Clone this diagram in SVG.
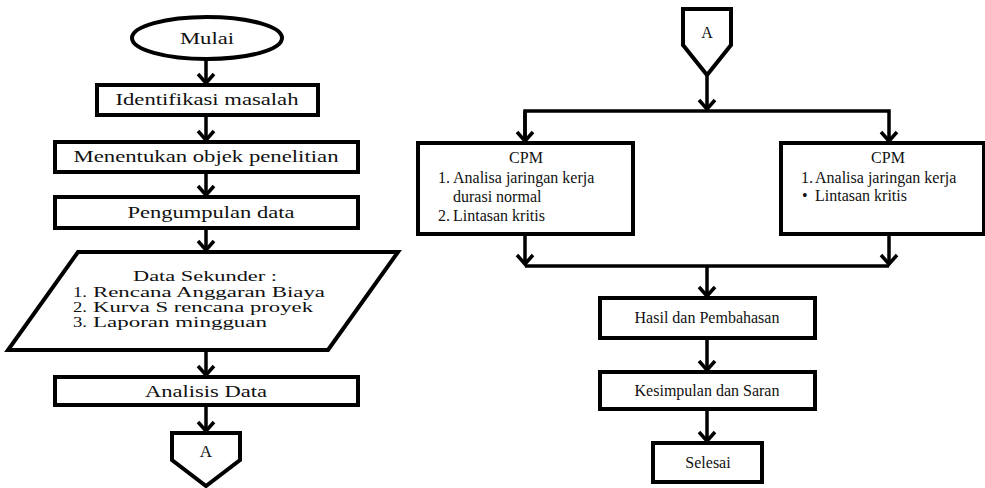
<svg xmlns="http://www.w3.org/2000/svg" width="985" height="488" viewBox="0 0 985 488">
<style>
.shape{fill:#fff;stroke:#000;stroke-width:4}
.conn{fill:none;stroke:#000;stroke-width:3.5}
.t{font-family:'Liberation Serif',serif;font-size:16px;fill:#111}
.s{font-size:14px}
.c{text-anchor:middle}
</style>
<defs>
<marker id="ah" markerUnits="userSpaceOnUse" markerWidth="24" markerHeight="24" viewBox="-12 -12 24 24" refX="0" refY="0" orient="auto" overflow="visible">
<path d="M-9,-8 L0,0 L-9,8" fill="none" stroke="#000" stroke-width="3.5"/>
</marker>
</defs>
<rect width="985" height="488" fill="#fff"/>
<g id="connectors">
<path class="conn" d="M206,60 V83" marker-end="url(#ah)"/>
<path class="conn" d="M206,117 V140" marker-end="url(#ah)"/>
<path class="conn" d="M206,174 V195" marker-end="url(#ah)"/>
<path class="conn" d="M206,230 V250" marker-end="url(#ah)"/>
<path class="conn" d="M206,352 V375" marker-end="url(#ah)"/>
<path class="conn" d="M206,407 V431" marker-end="url(#ah)"/>
<path class="conn" d="M707,76 V109" marker-end="url(#ah)"/>
<path class="conn" d="M525,141 V111 H889 V141" marker-end="url(#ah)"/>
<path class="conn" d="M525,111 V141" marker-end="url(#ah)"/>
<path class="conn" d="M525,236 V264" marker-end="url(#ah)"/>
<path class="conn" d="M889,236 V264" marker-end="url(#ah)"/>
<path class="conn" d="M525,266 H889"/>
<path class="conn" d="M707,266 V296" marker-end="url(#ah)"/>
<path class="conn" d="M707,340 V370" marker-end="url(#ah)"/>
<path class="conn" d="M707,411 V441" marker-end="url(#ah)"/>
</g>
<g font-family="Liberation Serif, serif">
<g id="mulai">
<ellipse class="shape" cx="207" cy="38" rx="75" ry="21"/>
<text class="t c" x="207" y="44" textLength="54" lengthAdjust="spacingAndGlyphs">Mulai</text>
</g>
<g id="identifikasi">
<rect class="shape" x="97" y="85" width="221" height="30"/>
<text class="t c" x="207" y="105" textLength="183" lengthAdjust="spacingAndGlyphs">Identifikasi masalah</text>
</g>
<g id="menentukan">
<rect class="shape" x="55" y="142" width="303" height="30"/>
<text class="t c" x="206" y="162" textLength="265" lengthAdjust="spacingAndGlyphs">Menentukan objek penelitian</text>
</g>
<g id="pengumpulan">
<rect class="shape" x="55" y="197" width="303" height="31"/>
<text class="t c" x="211" y="218" textLength="167" lengthAdjust="spacingAndGlyphs">Pengumpulan data</text>
</g>
<g id="data-sekunder">
<polygon class="shape" points="78,252 398,252 328,350 8,350"/>
<text class="t s c" x="205" y="281" textLength="144" lengthAdjust="spacingAndGlyphs">Data Sekunder :</text>
<text class="t s" x="73" y="297" textLength="14" lengthAdjust="spacingAndGlyphs">1.</text>
<text class="t s" x="93" y="297" textLength="232" lengthAdjust="spacingAndGlyphs">Rencana Anggaran Biaya</text>
<text class="t s" x="73" y="312" textLength="14" lengthAdjust="spacingAndGlyphs">2.</text>
<text class="t s" x="93" y="312" textLength="220" lengthAdjust="spacingAndGlyphs">Kurva S rencana proyek</text>
<text class="t s" x="73" y="327" textLength="14" lengthAdjust="spacingAndGlyphs">3.</text>
<text class="t s" x="93" y="327" textLength="174" lengthAdjust="spacingAndGlyphs">Laporan mingguan</text>
</g>
<g id="analisis">
<rect class="shape" x="55" y="377" width="303" height="28"/>
<text class="t c" x="206" y="397" textLength="122" lengthAdjust="spacingAndGlyphs">Analisis Data</text>
</g>
<g id="offpage-a-left">
<polygon class="shape" points="172,433 240,433 240,460 206,486 172,460"/>
<text class="t c" x="206" y="457" style="font-size:17px">A</text>
</g>
<g id="offpage-a-right">
<polygon class="shape" points="683,9 731,9 731,45 707,75 683,45"/>
<text class="t c" x="707" y="38" style="font-size:16px">A</text>
</g>
<g id="cpm-left">
<rect class="shape" x="418" y="143" width="215" height="91"/>
<text class="t c" x="526" y="163">CPM</text>
<text class="t" x="438" y="183">1.</text>
<text class="t" x="453" y="183">Analisa jaringan kerja</text>
<text class="t" x="453" y="202">durasi normal</text>
<text class="t" x="438" y="221">2.</text>
<text class="t" x="453" y="221">Lintasan kritis</text>
</g>
<g id="cpm-right">
<rect class="shape" x="781" y="143" width="203" height="91"/>
<text class="t c" x="888" y="163">CPM</text>
<text class="t" x="801" y="183">1.</text>
<text class="t" x="815" y="183">Analisa jaringan kerja</text>
<text class="t" x="802" y="201">•</text>
<text class="t" x="815" y="201">Lintasan kritis</text>
</g>
<g id="hasil">
<rect class="shape" x="600" y="298" width="215" height="40"/>
<text class="t c" x="707" y="323">Hasil dan Pembahasan</text>
</g>
<g id="kesimpulan">
<rect class="shape" x="600" y="372" width="215" height="37"/>
<text class="t c" x="707" y="396">Kesimpulan dan Saran</text>
</g>
<g id="selesai">
<rect class="shape" x="653" y="443" width="109" height="39"/>
<text class="t c" x="708" y="468">Selesai</text>
</g>
</g>
</svg>
